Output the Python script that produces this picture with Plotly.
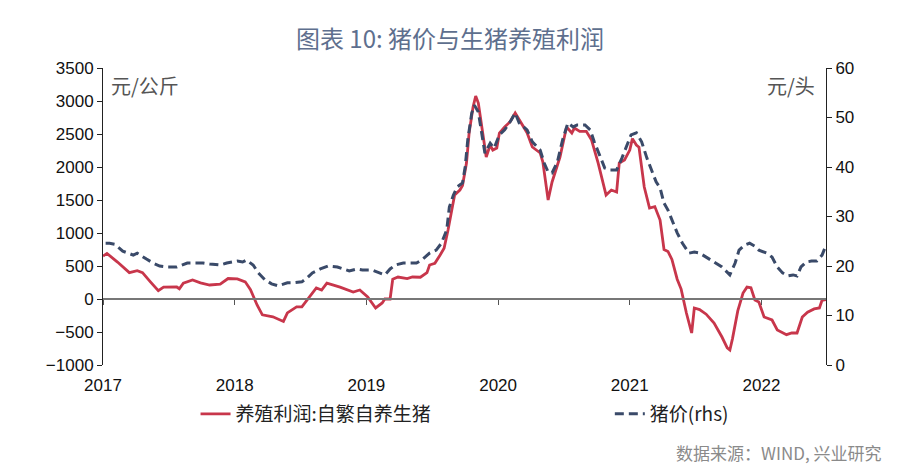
import plotly.graph_objects as go

# ---- data (time in decimal years) ----
profit_t = [2017.00, 2017.03, 2017.11, 2017.20, 2017.26, 2017.30, 2017.36, 2017.42, 2017.46, 2017.56,
            2017.58, 2017.61, 2017.68, 2017.74, 2017.81, 2017.89, 2017.95, 2018.02, 2018.08, 2018.12,
            2018.17, 2018.21, 2018.29, 2018.37, 2018.40, 2018.47, 2018.51, 2018.59, 2018.62, 2018.66,
            2018.70, 2018.80, 2018.90, 2018.95, 2019.01, 2019.07, 2019.12, 2019.14, 2019.18, 2019.20,
            2019.24, 2019.31, 2019.35, 2019.41, 2019.46, 2019.48, 2019.52, 2019.56, 2019.59, 2019.62,
            2019.65, 2019.67, 2019.71, 2019.73, 2019.76, 2019.78, 2019.81, 2019.83, 2019.85, 2019.88,
            2019.90, 2019.91, 2019.94, 2019.96, 2019.99, 2020.01, 2020.05, 2020.09, 2020.13, 2020.16,
            2020.22, 2020.26, 2020.32, 2020.34, 2020.38, 2020.41, 2020.47, 2020.52, 2020.56, 2020.58,
            2020.62, 2020.67, 2020.71, 2020.76, 2020.82, 2020.86, 2020.90, 2020.92, 2020.96, 2021.00,
            2021.02, 2021.05, 2021.07, 2021.11, 2021.15, 2021.19, 2021.23, 2021.26, 2021.29, 2021.32,
            2021.36, 2021.39, 2021.43, 2021.47, 2021.49, 2021.53, 2021.58, 2021.64, 2021.70, 2021.74,
            2021.76, 2021.78, 2021.82, 2021.86, 2021.89, 2021.92, 2021.95, 2021.98, 2022.02, 2022.08,
            2022.12, 2022.19, 2022.23, 2022.27, 2022.31, 2022.35, 2022.40, 2022.44, 2022.46, 2022.49]
profit_v = [650, 690, 560, 400, 430, 400, 260, 125, 180, 182,
            155, 240, 288, 245, 212, 225, 310, 305, 260, 140,
            -90, -240, -270, -340, -210, -120, -120, 90, 167, 136,
            240, 180, 106, 136, 30, -136, -60, 0, 0, 300,
            333, 310, 333, 330, 400, 515, 540, 667, 770, 1045,
            1394, 1575, 1651, 1720, 2060, 2515, 2909, 3075, 2970, 2560,
            2212, 2151, 2333, 2257, 2288, 2515, 2606, 2682, 2818, 2712,
            2520, 2303, 2212, 2076, 1500, 1773, 2151, 2606, 2515, 2591,
            2540, 2540, 2409, 2060, 1575, 1651, 1621, 2060, 2106, 2257,
            2430, 2333, 2300, 1697, 1379, 1400, 1197, 750, 720, 600,
            300, 150, -212, -515, -136, -160, -230, -364, -576, -742,
            -773, -600, -180, 91, 180, 170, -15, -45, -273, -318,
            -470, -540, -515, -515, -273, -200, -150, -136, -20, -10]

price_t = [2017.02, 2017.05, 2017.09, 2017.15, 2017.23, 2017.26, 2017.33, 2017.38, 2017.43, 2017.49,
           2017.56, 2017.64, 2017.68, 2017.76, 2017.81, 2017.89, 2017.94, 2018.02, 2018.06, 2018.09,
           2018.14, 2018.18, 2018.23, 2018.28, 2018.33, 2018.40, 2018.44, 2018.51, 2018.55, 2018.59,
           2018.65, 2018.71, 2018.78, 2018.82, 2018.87, 2018.93, 2018.97, 2019.04, 2019.10, 2019.14,
           2019.18, 2019.22, 2019.28, 2019.33, 2019.38, 2019.42, 2019.48, 2019.53, 2019.57, 2019.61,
           2019.63, 2019.66, 2019.69, 2019.73, 2019.75, 2019.77, 2019.80, 2019.82, 2019.85, 2019.88,
           2019.90, 2019.94, 2019.97, 2020.01, 2020.05, 2020.10, 2020.13, 2020.16, 2020.22, 2020.26,
           2020.32, 2020.35, 2020.38, 2020.41, 2020.45, 2020.49, 2020.53, 2020.57, 2020.60, 2020.66,
           2020.70, 2020.73, 2020.77, 2020.81, 2020.85, 2020.90, 2020.94, 2020.98, 2021.01, 2021.05,
           2021.09, 2021.13, 2021.17, 2021.20, 2021.23, 2021.26, 2021.29, 2021.32, 2021.36, 2021.40,
           2021.45, 2021.49, 2021.53, 2021.58, 2021.64, 2021.70, 2021.76, 2021.80, 2021.83, 2021.87,
           2021.91, 2021.95, 2021.98, 2022.04, 2022.08, 2022.12, 2022.16, 2022.20, 2022.24, 2022.27,
           2022.30, 2022.34, 2022.38, 2022.42, 2022.46, 2022.49]
price_v = [24.6, 24.6, 24.4, 23.0, 22.2, 22.6, 21.4, 20.6, 20.0, 19.8,
           19.8, 20.6, 20.6, 20.6, 20.4, 20.2, 20.6, 21.0, 20.8, 21.2,
           20.2, 18.6, 17.2, 16.4, 16.0, 16.6, 16.6, 16.8, 17.6, 18.6,
           19.4, 20.0, 19.8, 19.4, 19.0, 19.4, 19.2, 19.2, 18.6, 18.2,
           19.4, 20.2, 20.6, 20.6, 20.6, 21.2, 22.6, 23.2, 24.6, 27.3,
           31.9, 34.3, 36.0, 36.8, 40.0, 45.5, 50.9, 52.5, 51.1, 46.1,
           42.8, 44.8, 43.8, 46.5, 47.5, 49.5, 50.9, 48.9, 47.5, 45.1,
           43.4, 40.8, 39.0, 38.8, 41.0, 45.5, 48.9, 48.1, 48.5, 48.5,
           47.5, 45.1, 42.4, 39.8, 39.4, 39.4, 41.8, 44.4, 46.5, 46.9,
           45.1, 41.8, 39.0, 37.0, 35.8, 32.7, 31.3, 29.3, 26.7, 24.6,
           22.6, 22.8, 22.6, 21.8, 20.8, 19.8, 18.2, 20.6, 23.2, 24.2,
           24.6, 24.0, 23.2, 22.6, 21.8, 19.8, 18.6, 18.0, 18.2, 18.0,
           19.8, 20.8, 21.0, 21.0, 22.2, 24.2]

year_ticks = [2017, 2018, 2019, 2020, 2021, 2022]
left_ticks = [-1000, -500, 0, 500, 1000, 1500, 2000, 2500, 3000, 3500]
right_ticks = [0, 10, 20, 30, 40, 50, 60]

name_profit = "养殖利润:自繁自养生猪"
name_price = "猪价(rhs)"
title_text = "图表 10: 猪价与生猪养殖利润"
unit_left = "元/公斤"
unit_right = "元/头"
source_text = "数据来源：WIND, 兴业研究"

RED = "#C8364B"
BLUE = "#3A4A69"
NUM_FONT = "Liberation Sans, Arial, sans-serif"
CJK_FONT = "Noto Sans CJK SC, sans-serif"

fig = go.Figure()
fig.add_trace(go.Scatter(x=profit_t, y=profit_v, name=name_profit, mode="lines",
                         line=dict(color=RED, width=2.8), xaxis="x", yaxis="y",
                         legend="legend"))
fig.add_trace(go.Scatter(x=price_t, y=price_v, name=name_price, mode="lines",
                         line=dict(color=BLUE, width=3, dash="9px,5px"), xaxis="x", yaxis="y2",
                         legend="legend2"))
# invisible trace that carries the axis drawn along the zero line
fig.add_trace(go.Scatter(x=[year_ticks[0]], y=[None], mode="lines", showlegend=False,
                         hoverinfo="skip", xaxis="x2", yaxis="y"))

xr = [2017.0, 2022.49]
zero_pos = (0 - left_ticks[0]) / (left_ticks[-1] - left_ticks[0])

legend_font = dict(family=CJK_FONT, size=19, color="#222")

fig.update_layout(
    width=900, height=474,
    margin=dict(l=103, r=74, t=68, b=109, autoexpand=False),
    paper_bgcolor="white", plot_bgcolor="white",
    title=dict(text=title_text, x=0.5, xanchor="center", y=1 - 40 / 474, yanchor="middle",
               font=dict(family=CJK_FONT, size=24, color="#5E6F8E")),
    xaxis=dict(range=xr, tickvals=year_ticks, ticktext=[str(y) for y in year_ticks],
               showgrid=False, showline=False, zeroline=False, ticks="",
               ticklabelstandoff=8,
               tickfont=dict(family=NUM_FONT, size=17, color="#111")),
    xaxis2=dict(range=xr, overlaying="x", anchor="free", position=zero_pos,
                tickvals=year_ticks, showticklabels=False, ticks="outside", ticklen=5,
                tickcolor="#555", showgrid=False, showline=True, linecolor="#777", linewidth=1.5,
                zeroline=False),
    yaxis=dict(range=[left_ticks[0], left_ticks[-1]], tickvals=left_ticks,
               ticktext=[str(v).replace("-", "\u2212") for v in left_ticks],
               showgrid=False, zeroline=False, showline=True, linecolor="#222", linewidth=1,
               ticks="outside", ticklen=5, tickcolor="#222",
               tickfont=dict(family=NUM_FONT, size=17, color="#111")),
    yaxis2=dict(range=[right_ticks[0], right_ticks[-1]], tickvals=right_ticks,
                overlaying="y", side="right", showgrid=False, zeroline=False,
                showline=True, linecolor="#222", linewidth=1,
                ticks="outside", ticklen=5, tickcolor="#222",
                tickfont=dict(family=NUM_FONT, size=17, color="#111")),
    legend=dict(orientation="h", x=0.128, y=-0.165, xanchor="left", yanchor="middle",
                font=legend_font, bgcolor="rgba(0,0,0,0)"),
    legend2=dict(orientation="h", x=0.701, y=-0.165, xanchor="left", yanchor="middle",
                 font=legend_font, bgcolor="rgba(0,0,0,0)"),
    showlegend=True,
)

fig.add_annotation(text=unit_left, xref="paper", yref="paper", x=0.008, y=0.94,
                   xanchor="left", yanchor="middle", showarrow=False,
                   font=dict(family=CJK_FONT, size=20, color="#555"))
fig.add_annotation(text=unit_right, xref="paper", yref="paper", x=0.987, y=0.94,
                   xanchor="right", yanchor="middle", showarrow=False,
                   font=dict(family=CJK_FONT, size=20, color="#555"))
fig.add_annotation(text=source_text, xref="paper", yref="paper", x=1.079, y=-0.293,
                   xanchor="right", yanchor="middle", showarrow=False,
                   font=dict(family=CJK_FONT, size=17, color="#8A8A8A"))

fig.write_html("out.html", post_script="document.body.style.margin='0';",
               config={"displayModeBar": False})
